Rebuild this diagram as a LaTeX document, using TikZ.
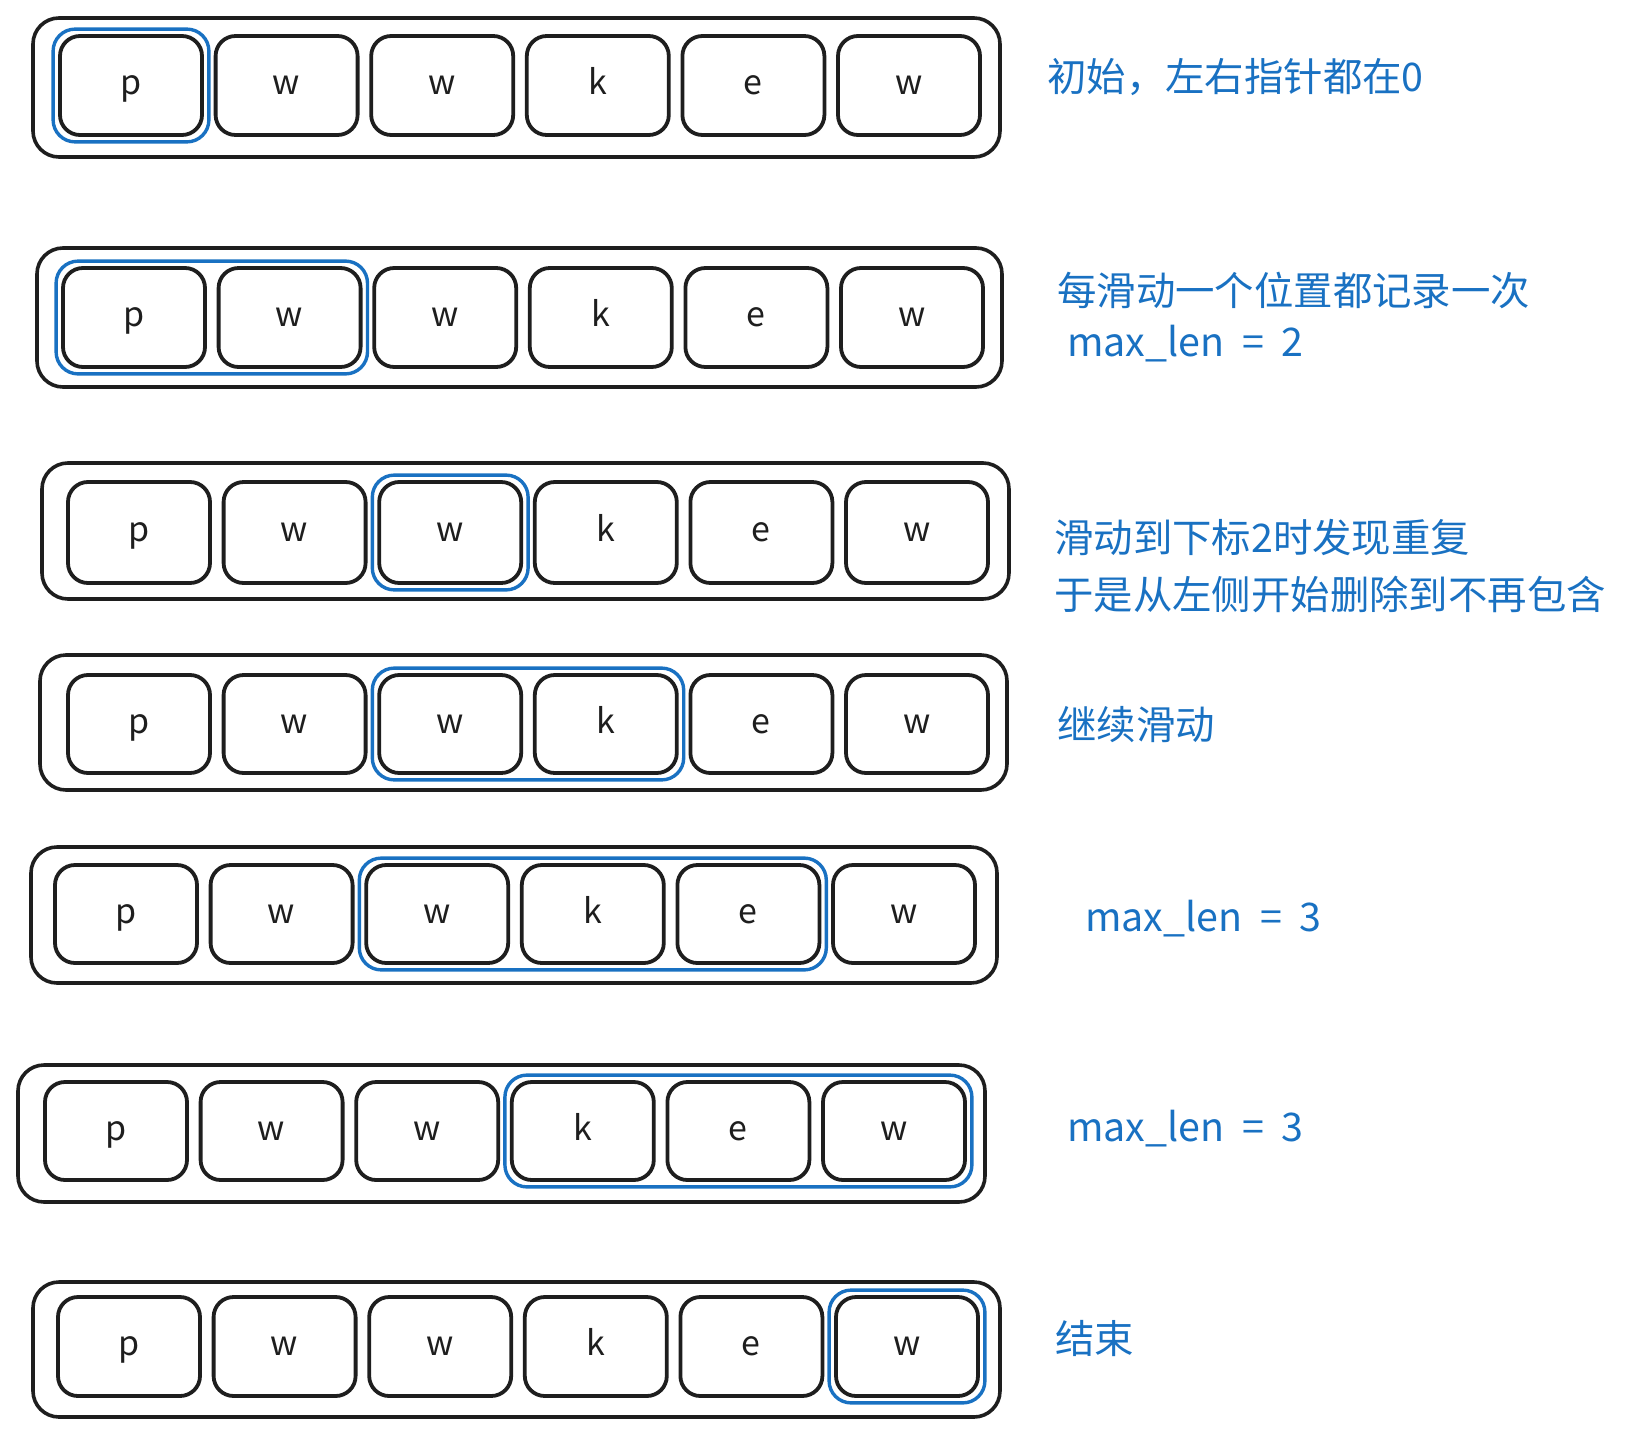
\documentclass[tikz,border=0pt]{standalone}
\usepackage{fontspec}
\usetikzlibrary{fit}
\newfontfamily\cjk{Noto Sans CJK SC}
\definecolor{xblue}{HTML}{1971C2}
\definecolor{xink}{HTML}{1E1E1E}
\tikzset{
  outerbox/.style={draw=xink, line width=3.6pt, rounded corners=26pt, inner sep=0pt},
  cell/.style={draw=xink, line width=3.8pt, rounded corners=20pt, minimum width=142pt, inner sep=0pt,
    font=\cjk\fontsize{34}{34}\selectfont, text=xink, text height=18pt, text depth=0pt},
  hl/.style={draw=xblue, line width=3.4pt, rounded corners=22pt, inner sep=5pt},
  note/.style={anchor=west, inner sep=0pt, text=xblue, font=\cjk\fontsize{39.4}{39.4}\selectfont},
}
% #1 row id, #2 x of first cell, #3 cell top, #4 cell bottom, #5 outer left, #6 outer right, #7 outer top, #8 outer bottom
\newcommand\arrrow[8]{%
  \node[outerbox, minimum width={#6-#5}, minimum height={#8-#7}] (o#1) at ({(#5+#6)/2},{(#7+#8)/2}) {};
  \foreach \ch [count=\i from 0] in {p,w,w,k,e,w} {
    \node[cell, minimum height={#4-#3}] (c#1\i) at ({#2+71+\i*155.6},{(#3+#4)/2}) {\ch};
  }%
}
\begin{document}
\begin{tikzpicture}[x=1pt, y=-1pt]
\useasboundingbox (0,0) rectangle (1630,1437);
% row 1
\arrrow{1}{60}{36}{135}{33}{1000}{18}{157}
\node[hl, fit=(c10)] (h1) {};
\node[note] (t1) at (1047,77) {初始，左右指针都在0};
% row 2
\arrrow{2}{63}{268}{367}{37}{1002}{248}{387}
\node[hl, fit=(c20)(c21)] (h2) {};
\node[note] (t2a) at (1057,290) {每滑动一个位置都记录一次};
\node[note] (t2b) at (1067,344) {max\_len\ \ =\ \ 2};
% row 3
\arrrow{3}{68}{482}{583}{42}{1009}{463}{599}
\node[hl, fit=(c32)] (h3) {};
\node[note] (t3a) at (1054,538) {滑动到下标2时发现重复};
\node[note] (t3b) at (1054,594) {于是从左侧开始删除到不再包含};
% row 4
\arrrow{4}{68}{675}{773}{40}{1007}{655}{790}
\node[hl, fit=(c42)(c43)] (h4) {};
\node[note] (t4) at (1057,725) {继续滑动};
% row 5
\arrrow{5}{55}{865}{963}{31}{997}{847}{983}
\node[hl, fit=(c52)(c54)] (h5) {};
\node[note] (t5) at (1085,919) {max\_len\ \ =\ \ 3};
% row 6
\arrrow{6}{45}{1082}{1180}{18}{985}{1065}{1202}
\node[hl, fit=(c63)(c65)] (h6) {};
\node[note] (t6) at (1067,1129) {max\_len\ \ =\ \ 3};
% row 7
\arrrow{7}{58}{1297}{1396}{33}{1000}{1282}{1417}
\node[hl, fit=(c75)] (h7) {};
\node[note] (t7) at (1055,1338) {结束};
\end{tikzpicture}
\end{document}
